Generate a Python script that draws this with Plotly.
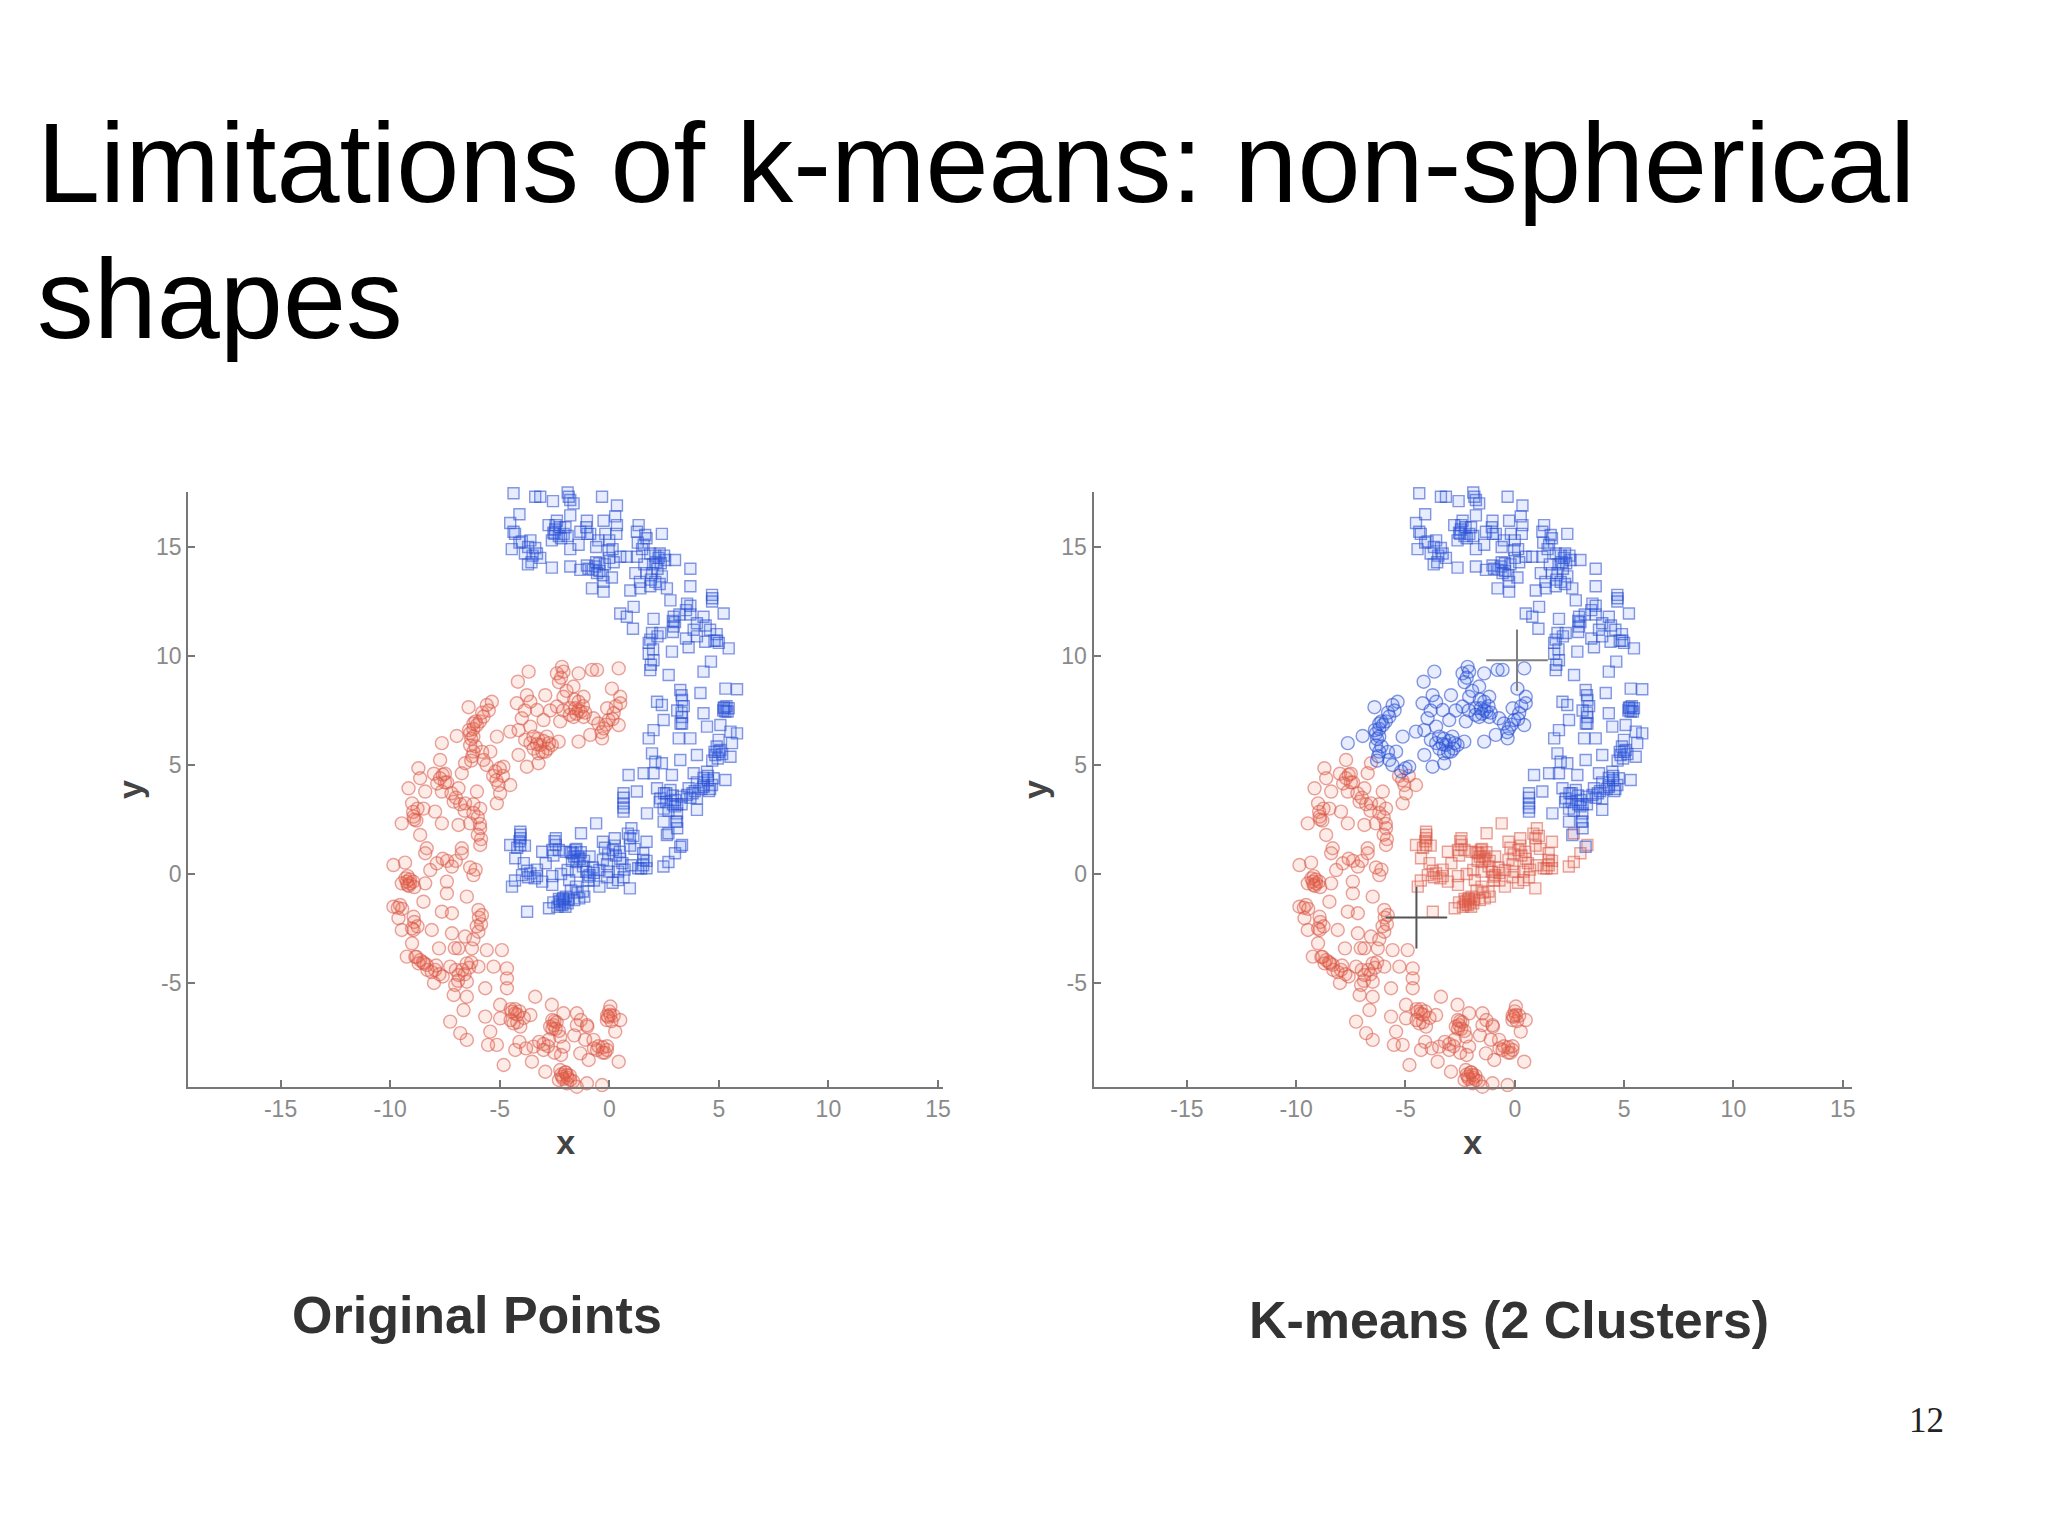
# %%
import numpy as np
import plotly.graph_objects as go

# Values, in axis units. Both panels show the same points.

# squares, upper arc
sq_upper_x = [-4.37,-3.38,-3.15,-2.57,-1.9,-1.78,-1.63,-1.85,-0.33,0.35,0.27,-4.1,-4.52,-4.37,-4.45,-3.99,-3.6,-3.38,-3.71,-3.15,-2.62,-2.77,-2.39,-1.78,-1.02,-2.47,-2.08,-2.62,-2.3,-2.55,-1.32,-0.87,-0.26,0.35,-0.18,0.32,-1.78,-1.4,-0.03,0.5,-1.78,-1.32,-1.02,-0.64,-0.56,-0.75,-0.45,0.12,-0.79,-0.26,-0.26,
    1.34,2.4,1.26,1.64,1.57,0.8,1.26,1.87,2.25,2.55,2.35,2.15,3.0,3.7,3.7,1.19,1.95,2.4,0.96,1.42,1.87,2.63,2.79,3.55,4.69,4.69,0.5,1.11,0.8,1.08,2.02,2.94,2.94,3.7,4.3,5.22,1.95,3.85,4.6,1.87,2.33,4.92,4.38,5.45,3.62,2.86,1.8,2.02,1.87,2.71,4.3,4.64,3.24,5.3,5.83,4.16,3.32,2.18,2.4,5.22,5.45,5.3,4.3,3.32,2.48,5.07,4.46,3.32,2.02,5.83,5.53,1.8,3.17,3.7,4.99,5.6,1.95,3.24,4.0,4.84,5.53,5.07,2.1,2.4,0.88,1.57,2.02,2.86,3.85,4.46,5.3,4.76,2.18,2.79,3.62,4.31,4.69,4.5,0.65,1.26,0.65,0.65,2.33,3.01,4.0,3.55,1.72,4.0,2.48,3.09,2.48,3.09,2.63,3.24,2.6,2.9,3.3,3.8,4.2,4.55,2.3,3.1,
    -2.45,-2.25,-2.5,-2.2,-2.0,-1.9,-4.3,-4.1,-3.7,-3.5,-3.3,-3.85,-3.55,-1.0,-1.05,-0.5,-0.6,0.0,-0.95,-0.6,-0.45,-0.2,0.0,0.15,0.2,-0.3,2.1,2.3,2.5,2.0,2.2,1.6,1.7,1.9,2.1,1.4,2.3,1.5,1.3,1.7,4.7,3.5,3.7,2.9,2.9,3.0,3.2,4.0,4.4,4.9,4.8,5.0,4.0,3.5,2.2,1.8,2.0,1.9,5.25,5.4,5.2,5.35,3.3,3.4,3.1,3.3,3.25,4.8,4.95,5.0,4.9,5.15,4.7,4.3,4.5,4.3,4.6,4.0,3.9,3.7,3.3,3.0,2.6,2.5,2.9,2.7,3.05,3.1,0.65,0.65]
sq_upper_y = [17.46,17.3,17.3,17.1,17.5,17.15,17.0,17.3,17.3,16.9,16.4,16.5,16.1,15.7,14.9,15.25,15.3,14.95,14.2,14.5,14.05,16.0,16.2,16.45,16.2,15.8,15.6,15.3,15.5,15.65,15.7,15.6,16.2,16.0,15.6,15.6,14.9,15.1,14.85,14.55,14.1,13.95,14.15,14.1,13.8,13.95,14.25,13.6,13.1,12.95,13.4,
    16.0,15.6,15.7,15.55,15.1,14.55,14.55,14.7,14.5,14.4,14.25,14.3,14.4,14.0,13.2,13.8,13.8,13.65,13.0,13.1,13.2,13.1,12.55,12.4,12.8,12.5,11.95,12.25,11.8,11.25,11.7,11.8,11.35,11.9,11.8,11.95,11.05,11.2,11.2,10.75,11.05,10.7,10.65,10.35,10.4,10.2,10.1,9.8,9.35,9.13,9.28,9.74,8.44,8.5,8.47,8.3,7.98,7.9,7.75,7.6,7.6,7.45,7.37,7.2,7.06,6.83,6.76,6.9,6.6,6.45,6.53,6.22,6.22,6.22,6.15,6.0,5.53,5.23,5.46,5.46,5.38,5.69,5.15,5.08,4.54,4.62,4.62,4.54,4.62,4.69,4.31,4.39,3.93,3.85,3.93,4.08,4.08,4.3,3.7,3.78,3.24,2.86,3.47,3.39,3.47,3.62,2.78,2.94,3.0,2.78,2.4,2.4,1.79,1.25,3.7,3.6,3.55,3.7,3.9,3.8,3.3,3.2,
    16.0,15.9,15.6,15.4,15.9,15.5,15.6,15.2,15.0,14.6,14.7,14.7,14.3,15.6,15.9,15.3,15.0,15.3,14.0,14.3,13.9,14.2,14.5,14.9,14.3,13.7,14.6,14.7,14.6,14.2,14.0,14.2,13.8,13.5,13.4,13.4,13.3,14.9,15.2,15.4,12.65,12.1,12.3,11.6,11.1,11.55,11.9,11.5,11.4,11.0,10.7,10.6,10.9,10.8,10.9,10.6,10.3,9.6,7.65,7.45,7.5,7.7,8.2,7.7,7.5,7.4,6.9,5.6,5.3,5.6,5.85,5.5,5.2,4.4,4.5,4.0,3.9,4.2,3.8,3.5,3.2,3.1,3.3,3.7,3.2,2.9,2.4,2.1,3.5,3.05]

# squares, lower arc
sq_lower_x = [-0.6,1.01,-4.06,-4.06,-4.52,-2.44,-2.44,-1.29,-0.29,0.25,1.7,0.94,3.32,2.7,-4.06,-3.06,-2.6,-1.98,-1.6,-1.44,-1.67,-1.55,0.17,0.48,1.55,1.55,-4.29,-2.9,-0.29,1.32,1.7,-1.9,-1.52,-0.45,-0.02,0.4,-3.98,-3.6,-0.98,-0.9,-4.44,0.4,0.94,-0.45,-3.06,-2.6,-1.83,-1.52,-1.14,-1.37,-2.14,-2.14,-2.37,-1.9,-1.98,-2.05,-2.25,-2.75,-3.75,2.47,2.7,3.0,-3.3,-3.75,-3.9,-1.2,-0.75,-0.1,0.6,1.0,-0.7,-3.4,-4.3,-1.75,
    -4.05,-4.1,-4.2,-3.85,-2.5,-2.3,-2.55,-1.7,-1.5,-1.35,-1.75,-1.5,-1.3,-1.15,-0.9,-0.2,-0.05,0.25,0.3,0.5,1.45,1.55,1.7,0.95,1.15,0.85,1.1,-3.3,-3.7,-0.95,-1.05,-0.7,-2.1,-2.25,-2.0,-1.85,-2.3,-1.6,-2.55,-1.45,-1.2,-2.6,-2.2,-0.1,0.15,0.65,0.7]
sq_lower_y = [2.32,2.1,1.94,1.64,1.33,1.64,1.33,1.87,1.48,1.64,1.48,1.64,1.33,1.87,1.33,1.02,1.1,1.02,0.8,0.8,0.95,1.1,1.1,1.02,0.95,0.64,0.72,0.49,0.64,0.26,0.26,0.18,0.11,0.18,0.11,0.11,-0.05,0.03,-0.12,-0.05,-0.58,-0.28,-0.66,-0.58,-0.35,-0.5,-0.28,-0.58,-1.04,-1.12,-1.19,-1.42,-1.5,-1.35,-1.04,-1.3,-1.25,-1.57,-1.73,0.34,0.55,0.95,0.2,0.15,0.5,0.35,0.3,0.45,0.5,0.4,-0.3,-0.2,-0.3,-0.75,
    1.8,1.5,1.2,1.3,1.5,1.1,0.85,0.6,0.55,0.7,1.0,1.15,1.0,0.6,0.8,1.2,0.9,1.3,0.85,0.7,0.25,0.4,0.6,1.3,1.15,1.85,1.75,-0.1,-0.15,-0.3,0.1,0.05,-1.1,-1.4,-1.5,-1.15,-1.15,-1.2,-1.3,-0.85,-0.8,-0.1,0.0,-0.15,-0.4,-0.15,0.2]

# circles
circ_x = [0.43,-0.56,-0.79,-1.4,-2.16,-2.39,-2.09,-3.68,-4.17,0.12,0.5,0.5,-3.76,-2.92,-1.63,-1.17,-2.09,-4.22,-3.3,-2.39,-1.78,-1.4,-1.63,-1.17,-1.5,-1.3,0.2,-0.03,-0.72,-3.99,-3.0,-2.24,-0.26,0.43,-4.14,-3.6,-0.87,-0.33,-1.4,-2.31,-3.46,-2.85,-3.15,-2.62,-3.0,-2.8,-3.84,-3.23,-2.92,-4.14,-3.76,-3.23,-4.52,
    -5.36,-5.59,-6.42,-5.74,-6.04,-6.35,-6.96,-5.13,-7.64,-6.2,-5.43,-5.74,-6.58,-7.72,-8.71,-4.83,-5.2,-6.73,-7.72,-8.63,-5.05,-4.52,-9.16,-8.4,-7.64,-6.88,-6.04,-4.98,-7.1,-6.58,-9.0,-8.48,-7.95,-5.89,-5.13,-8.93,-8.8,-9.47,-7.64,-6.88,-6.35,-5.89,-8.63,-5.89,-8.33,-6.73,-6.2,-6.1,-6.3,-7.5,-7.4,
    -9.85,-9.32,-8.4,-6.73,-7.87,-7.18,-6.2,-8.17,-9.24,-9.09,-9.47,-9.15,-8.4,-7.41,-6.5,-8.48,-7.41,-9.85,-9.55,-8.93,-9.62,-7.64,-7.18,-5.97,-5.81,-8.93,-9.47,-8.1,-7.18,-5.97,-6.58,-9.0,-7.77,-6.88,-6.27,-5.59,-4.9,-9.24,-8.63,-8.8,-8.33,-8.5,-6.5,-5.97,-5.28,-4.67,-7.95,-7.26,-6.88,-4.67,-8.0,-6.5,-7.03,-4.67,-5.66,-7.1,-6.5,-3.38,-2.62,0.05,-4.98,-6.65,-4.44,-2.09,-1.48,-3.6,0.05,0.5,-5.66,-4.98,-2.54,-4.37,-1.02,-7.26,-1.48,-0.11,0.27,-5.43,-4.06,-6.8,-2.24,-0.72,-6.5,-5.53,-5.13,-3.46,-4.29,-3.0,-2.09,-0.56,-0.11,-1.32,-0.94,0.43,-3.53,-4.82,-2.92,-2.24,-1.93,-1.78,-1.93,-1.48,-1.02,-0.33,
    -4.3,-4.2,-2.5,-2.6,-0.3,-0.2,-2.0,-2.15,
    -2.2,-2.3,-1.95,-1.6,-1.4,-1.2,-1.55,-1.8,-1.1,-2.1,-2.7,-0.1,0.3,0.15,-0.15,-0.5,-0.35,-3.6,-3.3,-3.05,-3.25,-3.45,-2.75,-3.85,-3.6,
    -5.5,-5.8,-5.9,-6.2,-6.4,-6.2,-6.35,-6.1,-6.25,-5.8,-5.6,-5.3,-5.15,-5.0,-4.85,-6.3,-8.0,-7.6,-7.5,-7.85,-7.2,-7.0,-6.8,-6.6,-6.2,-6.2,-6.0,-5.9,-6.0,-5.85,-8.95,-8.75,-8.9,
    -9.3,-9.1,-9.2,-8.95,-9.2,-8.9,-7.4,-7.6,-7.0,-6.35,-6.1,-9.65,-9.45,-8.9,-9.0,-8.75,-5.95,-5.85,-6.05,-6.2,-7.05,-8.85,-8.7,-8.45,-8.3,-8.1,-7.9,-7.75,-7.6,-6.7,-6.4,-6.3,-6.6,-6.9,-7.0,
    -4.5,-4.3,-4.2,-4.1,-4.5,-3.9,-2.6,-2.4,-2.45,-2.7,-2.3,0.0,-0.05,0.2,0.1,-0.1,-3.2,-3.0,-2.8,-2.75,-1.0,-1.3,-0.5,-0.3,-0.1,-0.7,-2.2,-2.0,-2.1,-1.9,-1.8,-1.65,-2.3,-4.1,-3.8,-2.5,-2.2,-1.6,-1.1]
circ_y = [9.43,9.36,9.36,9.2,9.5,9.2,9.28,9.28,8.82,8.5,8.13,7.83,8.2,8.2,8.6,8.13,8.13,7.83,7.52,7.68,7.6,7.52,7.2,7.2,7.35,7.45,7.37,7.06,7.14,7.14,7.06,7.0,6.68,6.83,6.6,6.76,6.38,6.22,6.07,6.07,6.3,6.3,5.92,5.92,6.1,5.75,6.15,5.53,5.61,5.46,4.92,5.08,6.53,
    7.9,7.75,7.65,7.22,6.83,6.45,6.33,6.3,6.0,5.61,5.61,5.23,5.08,5.23,4.85,4.92,4.7,4.62,4.39,4.39,4.08,4.08,3.93,3.78,3.78,3.93,3.78,3.7,3.32,3.24,3.24,3.0,2.86,3.0,3.24,2.63,2.45,2.32,2.32,2.25,2.32,2.1,1.79,1.33,1.18,1.18,6.65,7.0,6.2,4.6,4.2,
    0.41,0.52,0.95,0.95,0.49,0.34,-0.05,0.18,-0.35,-0.43,-0.43,-0.55,-0.43,-0.35,-1.04,-1.27,-0.89,-1.5,-1.42,-1.96,-2.03,-1.73,-1.8,-1.65,-1.88,-2.57,-2.57,-2.57,-2.72,-2.65,-2.87,-3.18,-3.41,-3.41,-3.41,-3.49,-3.49,-3.79,-3.95,-3.8,-4.17,-4.05,-4.1,-4.25,-4.25,-4.33,-4.4,-4.25,-4.63,-4.79,-5.0,-4.94,-5.09,-5.24,-5.24,-5.55,-5.63,-5.63,-6.0,-6.08,-6.0,-6.24,-6.32,-6.39,-6.39,-6.47,-6.47,-6.7,-6.54,-6.62,-6.93,-6.85,-6.93,-6.77,-6.93,-6.7,-7.23,-7.23,-7.0,-7.3,-7.46,-7.61,-7.61,-7.84,-7.84,-7.92,-8.07,-8.07,-7.92,-8.07,-8.07,-8.23,-8.53,-8.61,-8.61,-8.76,-9.07,-8.99,-9.22,-9.45,-9.6,-9.76,-9.6,-9.68,
    -6.2,-6.45,-6.75,-7.1,-7.95,-8.2,-9.1,-9.3,
    9.0,8.8,8.4,8.0,7.9,7.7,7.6,7.3,7.4,7.5,7.5,7.6,7.7,7.1,6.85,6.9,6.5,6.0,5.95,5.6,6.2,5.75,6.0,7.5,7.9,
    7.5,7.4,7.0,6.9,6.6,6.3,5.9,5.85,5.4,5.6,5.0,4.5,4.3,4.85,4.5,5.2,4.6,4.55,4.2,4.15,3.7,3.5,3.2,2.9,3.2,2.8,2.6,2.3,1.8,1.6,2.85,3.0,2.5,
    -0.2,-0.25,-0.5,-0.35,-0.1,-0.6,0.6,0.7,0.6,0.3,0.2,-1.55,-1.6,-2.2,-2.5,-2.4,-2.0,-2.3,-2.4,-3.0,-3.4,-3.8,-4.1,-4.1,-4.4,-4.5,-4.2,-4.6,-4.7,-4.4,-4.3,-4.05,-4.6,-4.9,-4.4,
    -6.2,-6.4,-6.8,-6.3,-6.7,-6.6,-6.7,-6.8,-7.1,-7.0,-7.2,-6.3,-6.55,-6.5,-6.75,-6.5,-7.7,-7.8,-7.9,-7.6,-7.0,-6.7,-7.9,-8.2,-7.9,-8.0,-9.2,-9.1,-9.4,-9.35,-9.25,-9.5,-9.45,-7.7,-8.0,-8.2,-8.3,-7.4,-7.6]

# k-means centroids
centroid_x = [0.1, -4.5]
centroid_y = [9.8, -2.0]

x_ticks = [-15, -10, -5, 0, 5, 10, 15]
y_ticks = [-5, 0, 5, 10, 15]

circ_x = np.array(circ_x)
circ_y = np.array(circ_y)
# k-means puts the upper part of the red arc in the blue cluster
km_blue = circ_y > 5.8 - 0.4 * (circ_x + 8)

RED = ("rgba(240,90,60,0.12)", "rgba(215,90,75,0.55)")
BLUE = ("rgba(60,110,245,0.12)", "rgba(45,80,205,0.58)")
W, H = 2048, 1535
PLOT_W = 2040  # width the domains came out at in the first render


def marks(x, y, symbol, color, axes):
    return go.Scatter(
        x=x, y=y, mode="markers", xaxis="x" + axes, yaxis="y" + axes, showlegend=False, cliponaxis=False,
        marker=dict(symbol=symbol, size=13 if symbol == "circle" else 11, color=color[0],
                    line=dict(width=1.4, color=color[1])),
    )


fig = go.Figure()

# left panel: original points
fig.add_trace(marks(circ_x, circ_y, "circle", RED, ""))
fig.add_trace(marks(sq_upper_x + sq_lower_x, sq_upper_y + sq_lower_y, "square", BLUE, ""))

# right panel: k-means result
fig.add_trace(marks(circ_x[~km_blue], circ_y[~km_blue], "circle", RED, "2"))
fig.add_trace(marks(circ_x[km_blue], circ_y[km_blue], "circle", BLUE, "2"))
fig.add_trace(marks(sq_lower_x, sq_lower_y, "square", RED, "2"))
fig.add_trace(marks(sq_upper_x, sq_upper_y, "square", BLUE, "2"))
fig.add_trace(
    go.Scatter(
        x=centroid_x, y=centroid_y, mode="markers", xaxis="x2", yaxis="y2", showlegend=False,
        marker=dict(symbol="cross-thin", size=44, line=dict(width=2, color=["#808080", "#555555"])),
    )
)

axis = dict(
    showgrid=False, zeroline=False, showline=True, linecolor="#777777", linewidth=2,
    ticks="inside", ticklen=7, tickwidth=2, tickcolor="#777777",
    tickfont=dict(family="Liberation Sans", size=23, color="#8a8a8a"),
)
label = dict(family="Liberation Sans", size=34, color="#444444", weight="bold")
y_domain = [1 - 1087 / H, 1 - 492 / H]
x_labels = [str(v) for v in x_ticks]
y_labels = [str(v) for v in y_ticks]


def note(text, x, y, size, family="Liberation Sans", color="#333333", bold=False, xanchor="center"):
    return dict(text=text, x=x / PLOT_W, y=1 - y / H, xref="paper", yref="paper", showarrow=False, xanchor=xanchor,
                font=dict(family=family, size=size, color=color, weight="bold" if bold else "normal"))


fig.update_layout(
    width=W,
    height=H,
    margin=dict(l=0, r=0, t=0, b=0),
    paper_bgcolor="white",
    plot_bgcolor="white",
    xaxis=dict(axis, domain=[188 / PLOT_W, 943 / PLOT_W], range=[-19.22, 15.25], tickvals=x_ticks, ticktext=x_labels,
               title=dict(text="x", font=label, standoff=10), anchor="y"),
    yaxis=dict(axis, domain=y_domain, range=[-9.77, 17.52], tickvals=y_ticks, ticktext=y_labels,
               title=dict(text="y", font=label, standoff=3), anchor="x"),
    xaxis2=dict(axis, domain=[1093 / PLOT_W, 1851 / PLOT_W], range=[-19.27, 15.42], tickvals=x_ticks, ticktext=x_labels,
                title=dict(text="x", font=label, standoff=10), anchor="y2"),
    yaxis2=dict(axis, domain=y_domain, range=[-9.77, 17.52], tickvals=y_ticks, ticktext=y_labels,
                title=dict(text="y", font=label, standoff=3), anchor="x2"),
    annotations=[
        note("Limitations of k-means: non-spherical", 35, 97, 113.4, color="black", xanchor="left"),
        note("shapes", 35, 233, 113.4, color="black", xanchor="left"),
        note("Original Points", 477, 1346, 52, bold=True),
        note("K-means (2 Clusters)", 1508, 1351, 52, bold=True),
        note("12", 1926, 1442, 35, family="Liberation Serif", color="#222222"),
    ],
)

fig.write_html("out.html", config={"displayModeBar": False}, post_script="document.body.style.margin = '0';")
